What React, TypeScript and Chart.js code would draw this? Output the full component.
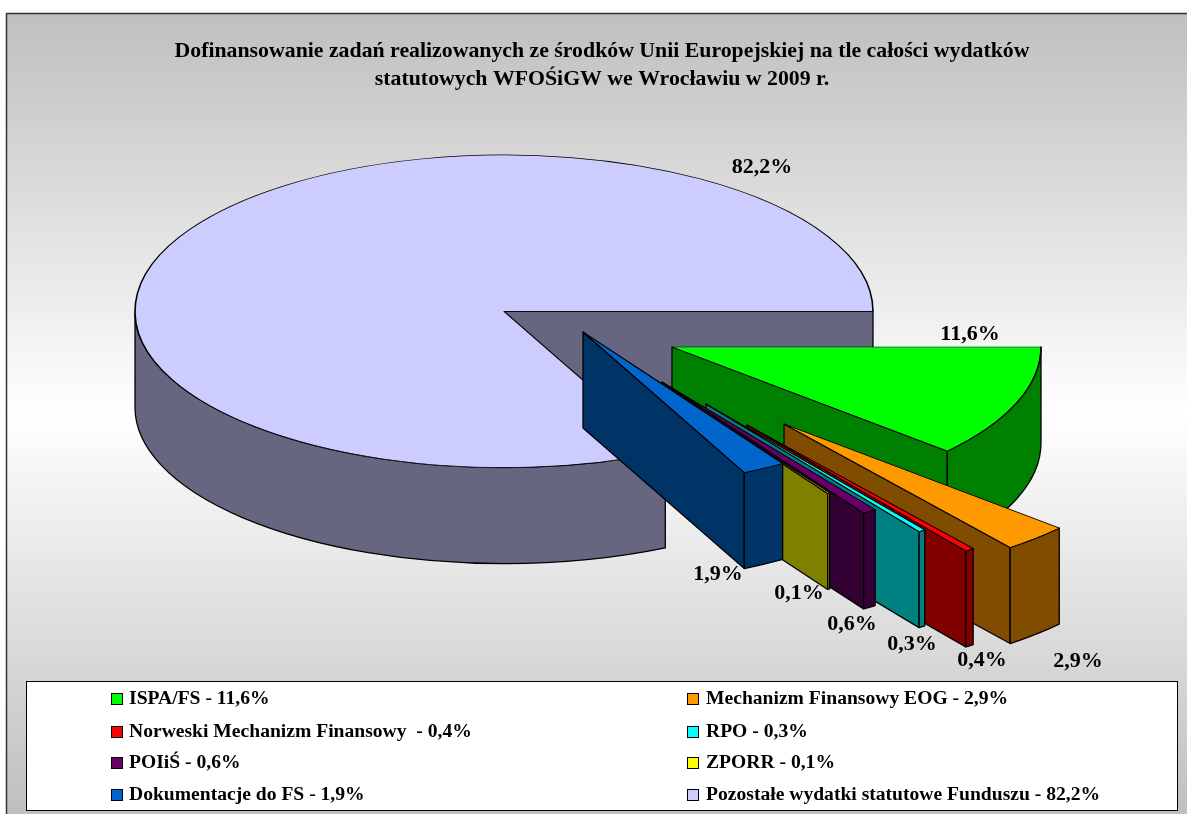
import React, { useEffect, useRef } from "react";
import { Chart, registerables } from "chart.js";

Chart.register(...registerables);

const TITLE_LINES = [
  "Dofinansowanie zadań realizowanych ze środków Unii Europejskiej na tle całości wydatków",
  "statutowych WFOŚiGW we Wrocławiu w 2009 r.",
];
const categories = [
  "ISPA/FS",
  "Mechanizm Finansowy EOG",
  "Norweski Mechanizm Finansowy ",
  "RPO",
  "POIiŚ",
  "ZPORR",
  "Dokumentacje do FS",
  "Pozostałe wydatki statutowe Funduszu",
];
const shares = [11.6, 2.9, 0.4, 0.3, 0.6, 0.1, 1.9, 82.2];
const topColors = ["#00FF00", "#FF9900", "#FF0000", "#00FFFF", "#660066", "#FFFF00", "#0066CC", "#CCCCFF"];
const sideColors = ["#008000", "#804C00", "#800000", "#008080", "#330033", "#808000", "#003366", "#666680"];

// Exploded-slice displacement from the pie centre, in pixels
const explodeX = [168, 280, 243, 202, 158, 124, 79, 0];
const explodeY = [35.7, 112.7, 113.7, 92.7, 70.7, 50.7, 20.7, 0];
const drawOrder = [7, 0, 1, 2, 3, 4, 5, 6];
const labelX = [970, 1078, 982, 912, 852, 799, 718, 762];
const labelY = [334, 661, 660, 644, 624, 593, 574, 167];

const PIE_X = 504;
const PIE_Y = 311.3;
const RADIUS = 369;
const TILT = 0.4236;
const DEPTH = 96;
const SERIF = '"Liberation Serif", "Times New Roman", serif';

const pctText = (v: number) => v.toFixed(1).replace(".", ",") + "%";

function drawRadialWall(ctx: CanvasRenderingContext2D, a: number, r: number) {
  const ex = Math.cos(a) * r;
  const ey = Math.sin(a) * r * TILT;
  ctx.beginPath();
  ctx.moveTo(0, 0);
  ctx.lineTo(ex, ey);
  ctx.lineTo(ex, ey + DEPTH);
  ctx.lineTo(0, DEPTH);
  ctx.closePath();
  ctx.fill();
  ctx.stroke();
}

function drawOuterWall(ctx: CanvasRenderingContext2D, a1: number, a2: number, r: number) {
  const lo = Math.max(a1, 0);
  const hi = Math.min(a2, Math.PI);
  if (hi <= lo) return;
  ctx.beginPath();
  ctx.ellipse(0, 0, r, r * TILT, 0, lo, hi, false);
  ctx.lineTo(Math.cos(hi) * r, Math.sin(hi) * r * TILT + DEPTH);
  ctx.ellipse(0, DEPTH, r, r * TILT, 0, hi, lo, true);
  ctx.closePath();
  ctx.fill();
  ctx.stroke();
}

const pie3dPlugin = {
  id: "pie3d",
  beforeDraw(chart: any) {
    const { ctx, width, height } = chart;
    const left = 6.5;
    const top = 13.5;
    const g = ctx.createLinearGradient(0, top, 0, height);
    g.addColorStop(0, "#BFBFBF");
    g.addColorStop(0.5, "#FFFFFF");
    g.addColorStop(1, "#BFBFBF");
    ctx.save();
    ctx.fillStyle = "#FFFFFF";
    ctx.fillRect(0, 0, width, height);
    ctx.fillStyle = g;
    ctx.fillRect(left, top, width - left, height - top);
    ctx.strokeStyle = "#333333";
    ctx.lineWidth = 1.5;
    ctx.beginPath();
    ctx.moveTo(left, height);
    ctx.lineTo(left, top);
    ctx.lineTo(width, top);
    ctx.stroke();
    ctx.restore();
  },
  beforeDatasetsDraw(chart: any) {
    const { ctx } = chart;
    const arcs = chart.getDatasetMeta(0).data;
    for (const i of drawOrder) {
      const el = arcs[i];
      const { x, y, startAngle, endAngle, outerRadius } = el;
      ctx.save();
      ctx.translate(PIE_X + explodeX[i], PIE_Y + explodeY[i]);
      ctx.fillStyle = sideColors[i];
      ctx.strokeStyle = "#000000";
      ctx.lineWidth = 1.3;
      ctx.lineJoin = "round";
      // A radial wall faces the viewer only when its outward normal points down the screen
      if (Math.cos(startAngle) < 0) drawRadialWall(ctx, startAngle, outerRadius);
      if (Math.cos(endAngle) > 0) drawRadialWall(ctx, endAngle, outerRadius);
      drawOuterWall(ctx, startAngle, endAngle, outerRadius);
      ctx.scale(1, TILT);
      ctx.translate(-x, -y);
      el.draw(ctx);
      ctx.restore();
    }
    return false;
  },
  afterDraw(chart: any) {
    const { ctx } = chart;
    ctx.save();
    // Value labels
    ctx.fillStyle = "#000000";
    ctx.font = `bold 22px ${SERIF}`;
    ctx.textAlign = "center";
    ctx.textBaseline = "middle";
    shares.forEach((v, i) => ctx.fillText(pctText(v), labelX[i], labelY[i]));

    // Legend box
    const bx = 26.5, by = 681.5, bw = 1151, bh = 129;
    ctx.fillStyle = "#FFFFFF";
    ctx.strokeStyle = "#000000";
    ctx.lineWidth = 1;
    ctx.fillRect(bx, by, bw, bh);
    ctx.strokeRect(bx, by, bw, bh);

    const colX = [111, 687];
    const rowY = [699, 732, 763, 795];
    ctx.font = `bold 19.6px ${SERIF}`;
    ctx.textAlign = "left";
    categories.forEach((name, i) => {
      const cx = colX[i % 2];
      const cy = rowY[Math.floor(i / 2)];
      ctx.fillStyle = topColors[i];
      ctx.fillRect(cx + 0.5, cy - 5.5, 11, 11);
      ctx.strokeRect(cx + 0.5, cy - 5.5, 11, 11);
      ctx.fillStyle = "#000000";
      ctx.fillText(`${name} - ${pctText(shares[i])}`, cx + (i % 2 ? 19 : 18), cy);
    });
    ctx.restore();
  },
};

export default function App() {
  const ref = useRef<HTMLCanvasElement>(null);
  useEffect(() => {
    document.body.style.margin = "0";
    const chart = new Chart(ref.current!, {
      type: "pie",
      data: {
        labels: categories,
        datasets: [
          {
            data: shares,
            backgroundColor: topColors,
            borderColor: "#000000",
            borderWidth: 1.6,
          },
        ],
      },
      options: {
        responsive: false,
        animation: false,
        rotation: 90,
        radius: RADIUS,
        layout: { padding: { left: 17, right: 0, top: 0, bottom: 0 } },
        plugins: {
          legend: { display: false },
          tooltip: { enabled: false },
          title: {
            display: true,
            text: TITLE_LINES,
            color: "#000000",
            font: { family: SERIF, size: 21.8, weight: "bold", lineHeight: 28 / 21.8 },
            padding: { top: 37, bottom: 0 },
          },
        },
      },
      plugins: [pie3dPlugin],
    } as any);
    return () => chart.destroy();
  }, []);
  return <canvas ref={ref} width={1187} height={814} style={{ display: "block" }} />;
}
